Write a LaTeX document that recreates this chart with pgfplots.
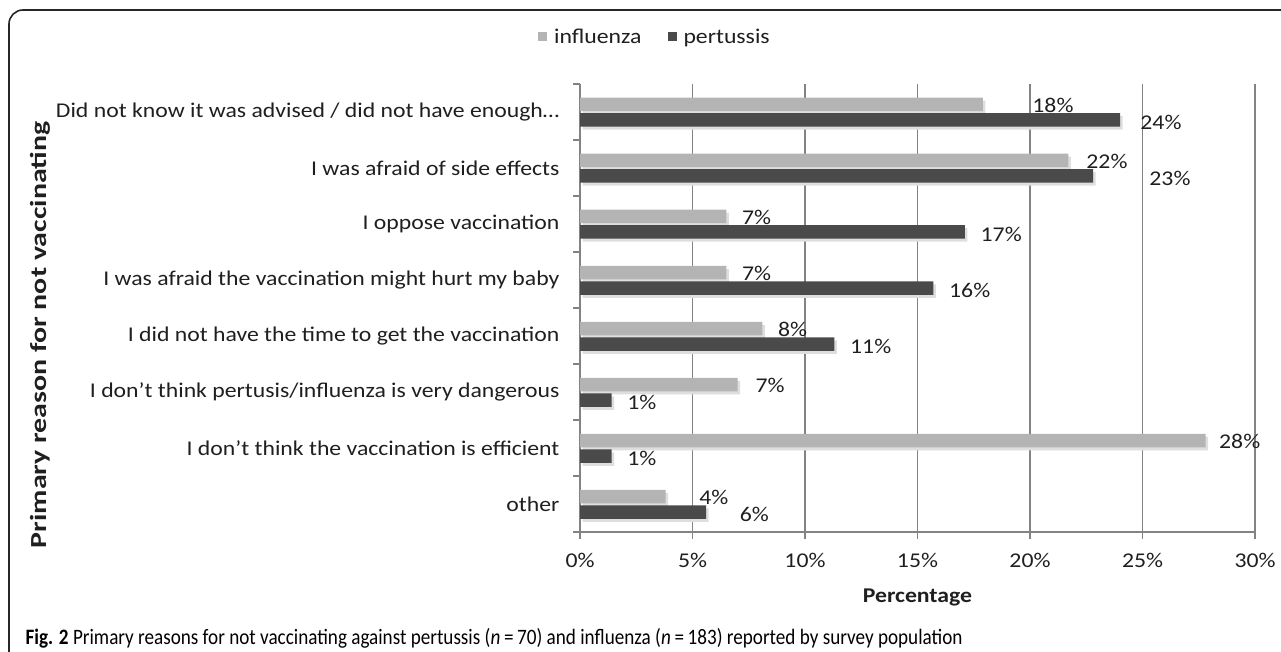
\documentclass[border=0pt]{standalone}
\usepackage{pgfplots}
\usepackage{pgfplotstable}
\pgfplotsset{compat=1.18}
\usepackage{fontspec}
\setmainfont{Carlito}[FakeStretch=1.13]
\newfontfamily\capfont{Carlito}[FakeStretch=0.87]
\newfontfamily\ylabfont{Carlito}[FakeStretch=1.3]
\definecolor{flu}{HTML}{B4B4B4}
\definecolor{per}{HTML}{4A4A4A}
\definecolor{gridc}{HTML}{838383}

\pgfplotsset{sqlegend/.style={legend image code/.code={%
  \path[##1,draw=none] (0pt,-4.5pt) rectangle (9pt,4.5pt);}}}

% shares in percent, top category at y=7
\pgfplotstableread{
y flu per
7 17.9 24.0
6 21.7 22.8
5 6.5 17.1
4 6.5 15.7
3 8.1 11.3
2 7.0 1.4
1 27.8 1.4
0 3.8 5.6
}\reasons

% where the data labels sit (left edge, in axis units)
\pgfplotstableread{
x y lab
20.1 7.11 18\%
22.5 6.11 22\%
7.2 5.11 7\%
7.2 4.11 7\%
8.8 3.11 8\%
7.8 2.11 7\%
28.4 1.11 28\%
5.3 0.11 4\%
24.9 6.82 24\%
25.3 5.82 23\%
17.8 4.82 17\%
16.4 3.82 16\%
12.0 2.82 11\%
2.1 1.82 1\%
2.1 0.82 1\%
7.1 -0.18 6\%
}\labels

\begin{document}
\begin{tikzpicture}
\useasboundingbox (0,0) rectangle (1281pt,651pt);
\draw[line width=1.6pt, black!85, rounded corners=14pt] (9pt,-10pt) -- (9pt,641pt) -- (1300pt,641pt);
\begin{axis}[
  at={(580pt,119pt)}, anchor=south west,
  scale only axis, width=675pt, height=448pt,
  xmin=0, xmax=30, ymin=-0.5, ymax=7.5,
  axis x line*=bottom, axis y line*=left,
  axis line style={gridc, line width=1.9pt, -},
  xtick={0,5,...,30},
  xticklabels={0\%,5\%,10\%,15\%,20\%,25\%,30\%},
  xmajorgrids, grid style={gridc, line width=1.9pt},
  ytick={-0.5,0.5,...,7.5}, yticklabels={},
  extra y ticks={0,...,7},
  extra y tick labels={other,
    I don't think the vaccination is efficient,
    I don't think pertusis/influenza is very dangerous,
    I did not have the time to get the vaccination,
    I was afraid the vaccination might hurt my baby,
    I oppose vaccination,
    I was afraid of side effects,
    {Did not know it was advised / did not have enough\ldots\hspace{-15pt}}},
  extra y tick style={major tick length=0pt},
  yticklabel style={xshift=-17pt},
  tick align=outside, major tick length=7pt,
  tick style={gridc, line width=1.9pt},
  font=\fontsize{21pt}{25pt}\selectfont,
  text=black!88,
  xticklabel style={yshift=-11pt},
  xlabel={\textbf{Percentage}},
  xlabel style={at={(axis description cs:0.5,0)}, anchor=center, yshift=-65pt},
  ylabel={\textbf{Primary reason for not vaccinating}},
  ylabel style={at={(axis description cs:-0.8,0.44)}, anchor=center,
    font=\ylabfont\fontsize{23pt}{27pt}\selectfont},
  legend style={at={(axis description cs:0.111,1.105)}, anchor=center,
    draw=none, fill=none, legend columns=2,
    /tikz/every odd column/.append style={column sep=5pt},
    /tikz/every even column/.append style={column sep=24pt}},
]
% soft shadows under the bars
\addplot[xbar, bar width=13.5pt, bar shift=7.5pt, fill=black!13, draw=none,
  forget plot, xshift=2.5pt, yshift=-3pt] table[x=flu, y=y] {\reasons};
\addplot[xbar, bar width=13.5pt, bar shift=-8pt, fill=black!13, draw=none,
  forget plot, xshift=2.5pt, yshift=-3pt] table[x=per, y=y] {\reasons};
\addplot[xbar, bar width=13.5pt, bar shift=7.5pt, fill=flu, draw=none, sqlegend]
  table[x=flu, y=y] {\reasons};
\addlegendentry{influenza}
\addplot[xbar, bar width=13.5pt, bar shift=-8pt, fill=per, draw=none, sqlegend]
  table[x=per, y=y] {\reasons};
\addlegendentry{pertussis}
\addplot[draw=none, forget plot, nodes near coords, point meta=explicit symbolic,
  nodes near coords style={anchor=west, inner sep=0pt, text=black!88}]
  table[x=x, y=y, meta=lab] {\labels};
\end{axis}
\node[anchor=west, font=\capfont\fontsize{22pt}{26pt}\selectfont] at (22pt,13pt)
  {\textbf{Fig. 2} Primary reasons for not vaccinating against pertussis (\textit{n}\,=\,70) and influenza (\textit{n}\,=\,183) reported by survey population};
\end{tikzpicture}
\end{document}
